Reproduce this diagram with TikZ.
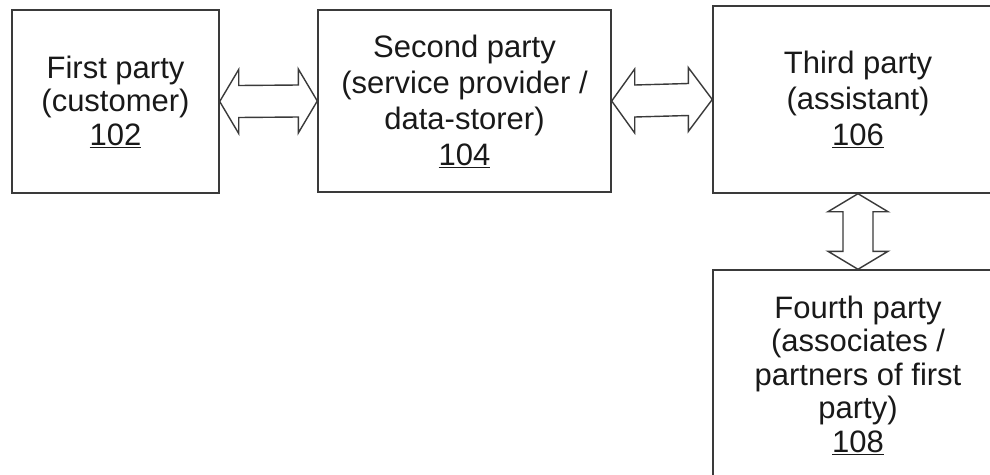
\documentclass[tikz,border=0pt]{standalone}
\usepackage{fontspec}
\setmainfont{Liberation Sans}
\usetikzlibrary{calc}
\definecolor{ln}{HTML}{3A3A3A}
\begin{document}
\begin{tikzpicture}[x=1pt,y=-1pt,
  box/.style={draw=ln, line width=1.4pt, rectangle, align=center, inner sep=0pt,
    font=\fontsize{31}{33.5}\selectfont, text=black!90},
  wide/.style={font=\fontsize{31}{36}\selectfont},
  blk/.style={draw=ln, line width=1.4pt, fill=white, line join=miter}]
\useasboundingbox (0,0) rectangle (990,474);
\clip (0,0) rectangle (990,474);
\node[box, minimum width=207pt, minimum height=183pt] (a) at (115.5,101.5)
  {First party\\(customer)\\\underline{102}};
\node[box, wide, minimum width=293pt, minimum height=182pt] (b) at (464.5,101)
  {Second party\\(service provider /\\data-storer)\\\underline{104}};
\node[box, wide, minimum width=290pt, minimum height=187pt] (c) at (858,99.5)
  {Third party\\(assistant)\\\underline{106}};
\node[box, minimum width=290pt, minimum height=210pt] (d) at (858,375)
  {Fourth party\\(associates /\\partners of first\\party)\\\underline{108}};
% a <-> b
\draw[blk] (a.east) -- ++(19,-32) -- ++(0,16) -- ($(b.west)+(-19,-16)$) -- ++(0,-16)
  -- (b.west) -- ++(-19,32) -- ++(0,-16) -- ($(a.east)+(19,16)$) -- ++(0,16) -- cycle;
% b <-> c
\draw[blk] (b.east) -- ++(23,-32) -- ++(0,16) -- ($(c.west)+(-24,-16)$) -- ++(0,-16)
  -- (c.west) -- ++(-24,32) -- ++(0,-16) -- ($(b.east)+(23,16)$) -- ++(0,16) -- cycle;
% c <-> d
\draw[blk] (c.south) -- ++(30,18) -- ++(-15,0) -- ($(d.north)+(15,-18)$) -- ++(15,0)
  -- (d.north) -- ++(-30,-18) -- ++(15,0) -- ($(c.south)+(-15,18)$) -- ++(-15,0) -- cycle;
\end{tikzpicture}
\end{document}
